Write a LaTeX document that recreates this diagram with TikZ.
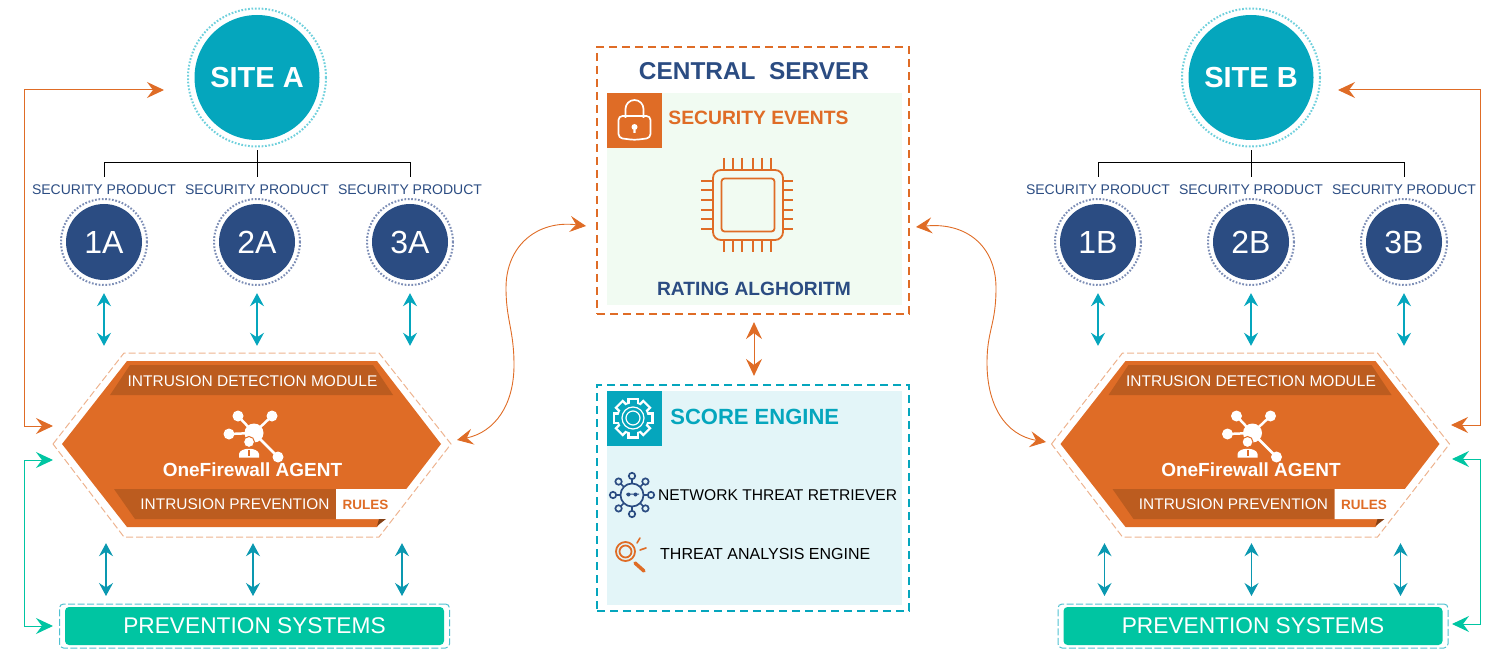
\documentclass[tikz,border=0pt]{standalone}
\usepackage{fontspec}
\setmainfont{Liberation Sans}
\usetikzlibrary{arrows.meta, positioning, calc}

\definecolor{oforange}{HTML}{DF6C26}
\definecolor{ofband}{HTML}{BC5C1F}
\definecolor{ofpale}{HTML}{EDB38F}
\definecolor{ofteal}{HTML}{05A6BD}
\definecolor{ofdeep}{HTML}{0A98B0}
\definecolor{ofnavy}{HTML}{2B4C82}
\definecolor{ofgreen}{HTML}{00C5A2}
\definecolor{ofmint}{HTML}{F1FBF2}
\definecolor{ofice}{HTML}{E3F5F8}
\definecolor{ofsitering}{HTML}{6FD0DC}
\definecolor{ofprodring}{HTML}{7C8DB5}

\tikzset{
  txt/.style={font=\fontsize{#1}{#1}\selectfont, inner sep=0pt},
  txtb/.style={font=\fontsize{#1}{#1}\selectfont\bfseries, inner sep=0pt},
  site/.style={circle, fill=ofteal, text=white, minimum size=125pt, inner sep=0pt, font=\fontsize{29}{29}\selectfont\bfseries},
  product/.style={circle, fill=ofnavy, text=white, minimum size=76pt, inner sep=0pt, font=\fontsize{32}{32}\selectfont},
  ring/.style={line width=2pt, dash pattern=on 1.7pt off 1.7pt},
  tealboth/.style={{Stealth[length=13pt, width=14pt, inset=4.5pt]}-{Stealth[length=13pt, width=14pt, inset=4.5pt]}, line width=1.2pt, draw=#1},
  loopboth/.style={{Stealth[length=17pt, width=16pt, inset=6pt]}-{Stealth[length=17pt, width=16pt, inset=6pt]}, line width=1pt, draw=#1},
  thinboth/.style={{Stealth[length=16pt, width=16pt, inset=6pt]}-{Stealth[length=16pt, width=16pt, inset=6pt]}, line width=0.9pt, draw=oforange},
  bigdash/.style={draw=#1, line width=2.2pt, dash pattern=on 8pt off 5pt, inner sep=0pt},
}

\begin{document}
\begin{tikzpicture}[x=1pt, y=-1pt]
  \useasboundingbox (0,0) rectangle (1500,663);

  % two sites, same layout
  \foreach \side/\dx/\sx/\tx in {A/0/257/0, B/998.5/1251/1.5} {
    \node[site] (site\side) at (\sx,77.5) {SITE \side};
    \draw[ofsitering, ring] (site\side) circle (69pt);

    \begin{scope}[shift={(\sx-257,0)}]
      \node[product] (p1\side) at (104,242) {1\side};
      \node[product] (p2\side) at (257,242) {2\side};
      \node[product] (p3\side) at (410,242) {3\side};
      \foreach \n in {1,2,3} {
        \draw[ofprodring, ring] (p\n\side) circle (43pt);
        \node[txt=14, text=ofnavy] (lab\n\side) at (p\n\side |- 0,190) {SECURITY PRODUCT};
      }
      \coordinate (bus\side) at (257,163);
      \draw[line width=1pt] (bus\side -| p1\side) -- (bus\side -| p3\side) -- +(0,14);
      \draw[line width=1pt] (bus\side -| p1\side) -- +(0,14);
      \draw[line width=1pt] (site\side) ++(0,73) -- ++(0,27);
    \end{scope}

    \begin{scope}[shift={(\dx,0)}]
      \node[minimum width=398pt, minimum height=184pt, inner sep=0pt] (hex\side) at (252,445) {};
      \draw[ofpale, line width=1pt, dash pattern=on 7pt off 3pt]
        (53,444) -- (124,353) -- (379,353) -- (451,444) -- (379,537) -- (124,537) -- cycle;
      \fill[oforange] (62,444) -- (127,361) -- (377,361) -- (441,444) -- (377,527) -- (127,527) -- cycle;
      \fill[ofband] (110,395) -- (130,365) -- (373,365) -- (393,395) -- cycle;
      \fill[ofband] (114,489) -- (336,489) -- (336,519) -- (135,519) -- cycle;
      \fill[white] (336,489) -- (407,489) -- (385,519) -- (336,519) -- cycle;
      \fill[ofband!70!black] (377,526) -- (386,519) -- (379,519) -- cycle;
      \node[txt=15.5, text=white] (detect\side) at (252.5,381) {INTRUSION DETECTION MODULE};
      \node[txt=15.4, text=white] (prevent\side) at (235,504) {INTRUSION PREVENTION};
      \node[txtb=13.5, text=oforange] (rules\side) at (365.5,505) {RULES};
      % agent icon
      \draw[white, line width=2.5pt] (254,433) -- (238,416) (254,433) -- (272,416) (254,433) -- (229,434) (254,433) -- (278,457);
      \fill[white] (254,433) circle (9.5pt) (238,416) circle (5.5pt) (272,416) circle (5.5pt) (229,434) circle (5.5pt) (278,457) circle (5.5pt);
      \filldraw[fill=white, draw=oforange, line width=1pt] (249,442) circle (5.5pt);
      \fill[white] (239,457.5) -- (239,454) .. controls (240,447) and (258,447) .. (259,454) -- (259,457.5) -- cycle;
      \fill[oforange] (248,450) rectangle (250,456);
      \node[txtb=19, text=white] (agent\side) at (252.5,470) {OneFirewall AGENT};
      % prevention bar
      \node[fill=ofgreen, text=white, rounded corners=4pt, minimum width=379pt, minimum height=38pt, inner sep=0pt, font=\fontsize{22.7}{23}\selectfont] (prev\side) at (254.5,626) {PREVENTION SYSTEMS};
      \node[draw=ofteal!70, line width=1pt, dash pattern=on 7pt off 2.5pt, rounded corners=4pt, minimum width=390pt, minimum height=44pt, inner sep=0pt] (prevdash\side) at (254.5,626) {};
      \foreach \x in {106,253,402} {
        \draw[tealboth=ofdeep, shorten <=6pt, shorten >=7.5pt] (\x,0 |- hex\side.south) -- (\x,0 |- prevdash\side.north);
      }
    \end{scope}
    \foreach \n in {1,2,3} {
      \draw[tealboth=ofteal, xshift=\tx pt, shorten <=13pt, shorten >=7pt] (p\n\side.south) -- (p\n\side |- hex\side.north);
    }
  }

  % central server
  \node[bigdash=oforange, minimum width=312pt, minimum height=267pt] (server) at (753,180.5) {};
  \fill[ofmint] (607,93) rectangle (902,305);
  \node[fill=oforange, minimum size=55pt, inner sep=0pt] (lockbox) at (634.5,120.5) {};
  \node[txtb=24.4, text=ofnavy] (servertitle) at (754,71) {CENTRAL\ \ SERVER};
  \node[txtb=19.3, text=oforange, right=6pt of lockbox, yshift=2.5pt] (events) {SECURITY EVENTS};
  \node[txtb=19.2, text=ofnavy] (rating) at (754,289) {RATING ALGHORITM};
  \draw[white, line width=1.7pt, rounded corners=9pt] (625.5,118) -- (625.5,100) -- (643.5,100) -- (643.5,118);
  \draw[white, line width=1.7pt, rounded corners=4pt] (618.5,116) -- (650.5,116) -- (650.5,138) -- (634.5,140) -- (618.5,138) -- cycle;
  \fill[white] (634.5,127) circle (3pt) (633.4,127) rectangle (635.6,133);
  % chip
  \node[draw=oforange, line width=1.8pt, rounded corners=8pt, minimum size=70pt, inner sep=0pt] (chip) at (748,205) {};
  \node[draw=oforange, line width=1.8pt, rounded corners=3pt, minimum size=53pt, inner sep=0pt] (core) at (748,205) {};
  \foreach \x in {724,733,742,753,762,771} {
    \draw[oforange, line width=1.7pt] (\x,158) -- (\x,170) (\x,240) -- (\x,252);
  }
  \foreach \y in {181,190,200,210,219,229} {
    \draw[oforange, line width=1.7pt] (701,\y) -- (713,\y) (783,\y) -- (793,\y);
  }

  % score engine
  \node[bigdash=ofteal, minimum width=312pt, minimum height=226pt] (score) at (753,498) {};
  \fill[ofice] (607,391) rectangle (902,605);
  \node[fill=ofteal, minimum size=55pt, inner sep=0pt] (gearbox) at (634.5,418.5) {};
  \node[txtb=22, text=ofteal, right=8pt of gearbox, yshift=1.5pt] (scoretitle) {SCORE ENGINE};
  \foreach \a in {0,45,...,315} {
    \fill[white, rotate around={\a:(633,418)}] (627,397.5) rectangle (639,410);
  }
  \fill[white] (633,418) circle (16.5pt);
  \foreach \a in {0,45,...,315} {
    \fill[ofteal, rotate around={\a:(633,418)}] (629.5,399.8) rectangle (636.5,410);
  }
  \fill[ofteal] (633,418) circle (14.6pt);
  \draw[white, line width=1.2pt] (633,418) circle (11pt) (633,418) circle (7pt);
  \node[txt=15.6, anchor=west] (retriever) at (658,495) {NETWORK THREAT RETRIEVER};
  \node[txt=16, anchor=west] (analysis) at (660,554) {THREAT ANALYSIS ENGINE};
  % network icon
  \foreach \a in {0,45,...,315} {
    \draw[ofnavy, line width=1.7pt] (632,495) ++(\a:11) -- ++(\a:4.5);
    \draw[ofnavy, line width=1.7pt] (632,495) ++(\a:19) circle (3.2pt);
  }
  \draw[ofnavy, line width=1.7pt] (632,495) circle (11.5pt);
  \fill[ofnavy] (628.5,494.5) circle (2pt) (635.5,494.5) circle (2pt) (626,493.5) rectangle (639,494.5);
  % magnifier icon
  \draw[oforange, line width=1.8pt] (625.5,551.5) circle (9.5pt) (625.5,551.5) circle (6pt);
  \draw[oforange, line width=3.5pt, line cap=round] (635,563) -- (644,571);
  \draw[oforange, line width=1.6pt, line cap=round] (637,543) -- (640,538) (640,550) -- (646,548);

  % connectors in the middle
  \draw[loopboth=oforange, shorten <=7pt, shorten >=8pt] (754,0 |- server.south) -- (754,0 |- score.north);
  \coordinate (srvL) at (586,226);
  \coordinate (srvR) at (916,227);
  \coordinate (hexAin) at (457,440);
  \coordinate (hexBin) at (1046,442);
  \draw[thinboth] (srvL) .. controls (538,220) and (506,245) .. (506,288) .. controls (506,320) and (514,330) .. (514,365) .. controls (514,405) and (495,432) .. (hexAin);
  \draw[thinboth] (srvR) .. controls (965,222) and (996,245) .. (996,288) .. controls (996,325) and (987,330) .. (987,363) .. controls (987,405) and (1005,435) .. (hexBin);

  % outer loops
  \coordinate (siteAin) at (164,90);
  \coordinate (hexAup) at (53,426);
  \coordinate (hexAdn) at (53,460);
  \coordinate (prevAin) at (53,626);
  \coordinate (siteBin) at (1338,90);
  \coordinate (hexBup) at (1451,425);
  \coordinate (hexBdn) at (1452,459);
  \coordinate (prevBin) at (1452,624);
  \draw[loopboth=oforange] (hexAup) -- (24,426) -- (24,90) -- (siteAin);
  \draw[loopboth=ofgreen] (hexAdn) -- (24,460) -- (24,626) -- (prevAin);
  \draw[loopboth=oforange] (hexBup) -- (1480,425) -- (1480,90) -- (siteBin);
  \draw[loopboth=ofgreen] (hexBdn) -- (1480,459) -- (1480,624) -- (prevBin);
\end{tikzpicture}
\end{document}
